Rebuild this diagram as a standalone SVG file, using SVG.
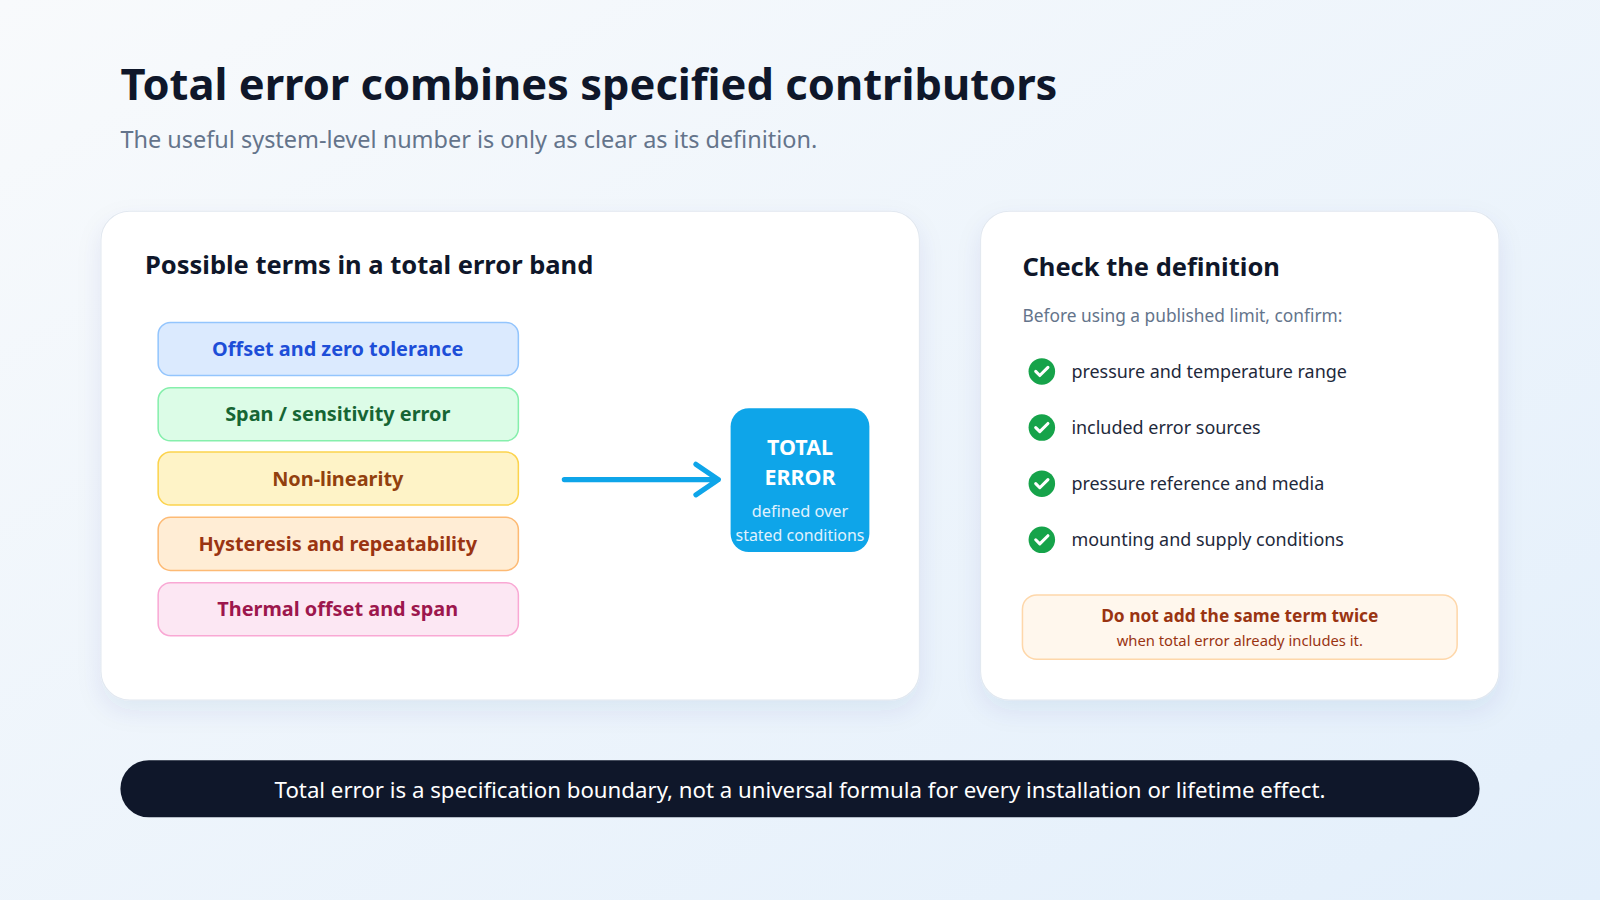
<svg xmlns="http://www.w3.org/2000/svg" width="1600" height="900" viewBox="0 0 1600 900">
<defs>
<linearGradient id="bg" x1="0" y1="0" x2="1" y2="1"><stop offset="0" stop-color="#f8fafc"/><stop offset="1" stop-color="#e3effb"/></linearGradient>
<filter id="sh" x="-10%" y="-10%" width="120%" height="130%"><feDropShadow dx="0" dy="10" stdDeviation="12" flood-color="#1e3a8a" flood-opacity="0.08"/></filter>
<style>
text{font-family:"Noto Sans","Open Sans","Liberation Sans",sans-serif}
.card{fill:#fff;stroke:#e2e8f0;stroke-width:1;filter:url(#sh)}
.h{font-size:25px;font-weight:700;fill:#0f172a}
.pill{stroke-width:1.5}
.pt{font-size:19.5px;font-weight:700;text-anchor:middle}
.ck{font-size:17.6px;fill:#1e293b}
.cc{fill:#16a34a}
.cm{fill:none;stroke:#fff;stroke-width:3;stroke-linecap:round;stroke-linejoin:round}
</style>
</defs>
<rect width="1600" height="900" fill="url(#bg)"/>
<g transform="scale(1.0204)">
<g id="title"><text x="118" y="98" font-size="42.6" font-weight="700" fill="#0f172a">Total error combines specified contributors</text>
<text x="118" y="145" font-size="23" fill="#64748b">The useful system-level number is only as clear as its definition.</text></g>
<g id="left-card"><rect class="card" x="99" y="207" width="802" height="479" rx="28"/>
<text class="h" x="142" y="269">Possible terms in a total error band</text></g>
<g id="term-offset"><rect class="pill" x="155" y="316" width="353" height="52" rx="12" fill="#dbeafe" stroke="#93c5fd"/><text class="pt" x="331" y="349" fill="#1d4ed8">Offset and zero tolerance</text></g>
<g id="term-span"><rect class="pill" x="155" y="380" width="353" height="52" rx="12" fill="#dcfce7" stroke="#86efac"/><text class="pt" x="331" y="413" fill="#166534">Span / sensitivity error</text></g>
<g id="term-nonlin"><rect class="pill" x="155" y="443" width="353" height="52" rx="12" fill="#fef3c7" stroke="#fcd34d"/><text class="pt" x="331" y="476" fill="#92400e">Non-linearity</text></g>
<g id="term-hyst"><rect class="pill" x="155" y="507" width="353" height="52" rx="12" fill="#ffedd5" stroke="#fdba74"/><text class="pt" x="331" y="540" fill="#9a3412">Hysteresis and repeatability</text></g>
<g id="term-thermal"><rect class="pill" x="155" y="571" width="353" height="52" rx="12" fill="#fce7f3" stroke="#f9a8d4"/><text class="pt" x="331" y="604" fill="#9d174d">Thermal offset and span</text></g>
<g id="connectors"><path d="M553 470 H704 M682 455 L704 470 L682 485" fill="none" stroke="#0ea5e9" stroke-width="5" stroke-linecap="round" stroke-linejoin="round"/></g>
<g id="total-error"><rect x="716" y="400" width="136" height="141" rx="18" fill="#0ea5e9"/>
<text x="784" y="446" font-size="21" font-weight="700" fill="#fff" text-anchor="middle">TOTAL</text>
<text x="784" y="475" font-size="21" font-weight="700" fill="#fff" text-anchor="middle">ERROR</text>
<text x="784" y="507" font-size="16" fill="#e0f2fe" text-anchor="middle">defined over</text>
<text x="784" y="530" font-size="15.6" fill="#e0f2fe" text-anchor="middle">stated conditions</text></g>
<g id="right-card"><rect class="card" x="961" y="207" width="508" height="479" rx="28"/>
<text class="h" x="1002" y="270">Check the definition</text>
<text x="1002" y="316" font-size="17" fill="#64748b">Before using a published limit, confirm:</text></g>
<g id="check1"><circle class="cc" cx="1021" cy="364" r="13"/><path class="cm" d="M1015 364 l4 4 l8 -8"/><text class="ck" x="1050" y="370">pressure and temperature range</text></g>
<g id="check2"><circle class="cc" cx="1021" cy="419" r="13"/><path class="cm" d="M1015 419 l4 4 l8 -8"/><text class="ck" x="1050" y="425">included error sources</text></g>
<g id="check3"><circle class="cc" cx="1021" cy="474" r="13"/><path class="cm" d="M1015 474 l4 4 l8 -8"/><text class="ck" x="1050" y="480">pressure reference and media</text></g>
<g id="check4"><circle class="cc" cx="1021" cy="529" r="13"/><path class="cm" d="M1015 529 l4 4 l8 -8"/><text class="ck" x="1050" y="535">mounting and supply conditions</text></g>
<g id="warning"><rect x="1002" y="583" width="426" height="63" rx="14" fill="#fff7ed" stroke="#fed7aa" stroke-width="1.5"/>
<text x="1215" y="610" font-size="17" font-weight="700" fill="#9a3412" text-anchor="middle">Do not add the same term twice</text>
<text x="1215" y="633" font-size="14.5" fill="#9a3412" text-anchor="middle">when total error already includes it.</text></g>
<g id="footer"><rect x="118" y="745" width="1332" height="56" rx="28" fill="#0f172a"/>
<text x="784" y="782" font-size="21.8" fill="#fff" text-anchor="middle">Total error is a specification boundary, not a universal formula for every installation or lifetime effect.</text></g>
</g>
</svg>
